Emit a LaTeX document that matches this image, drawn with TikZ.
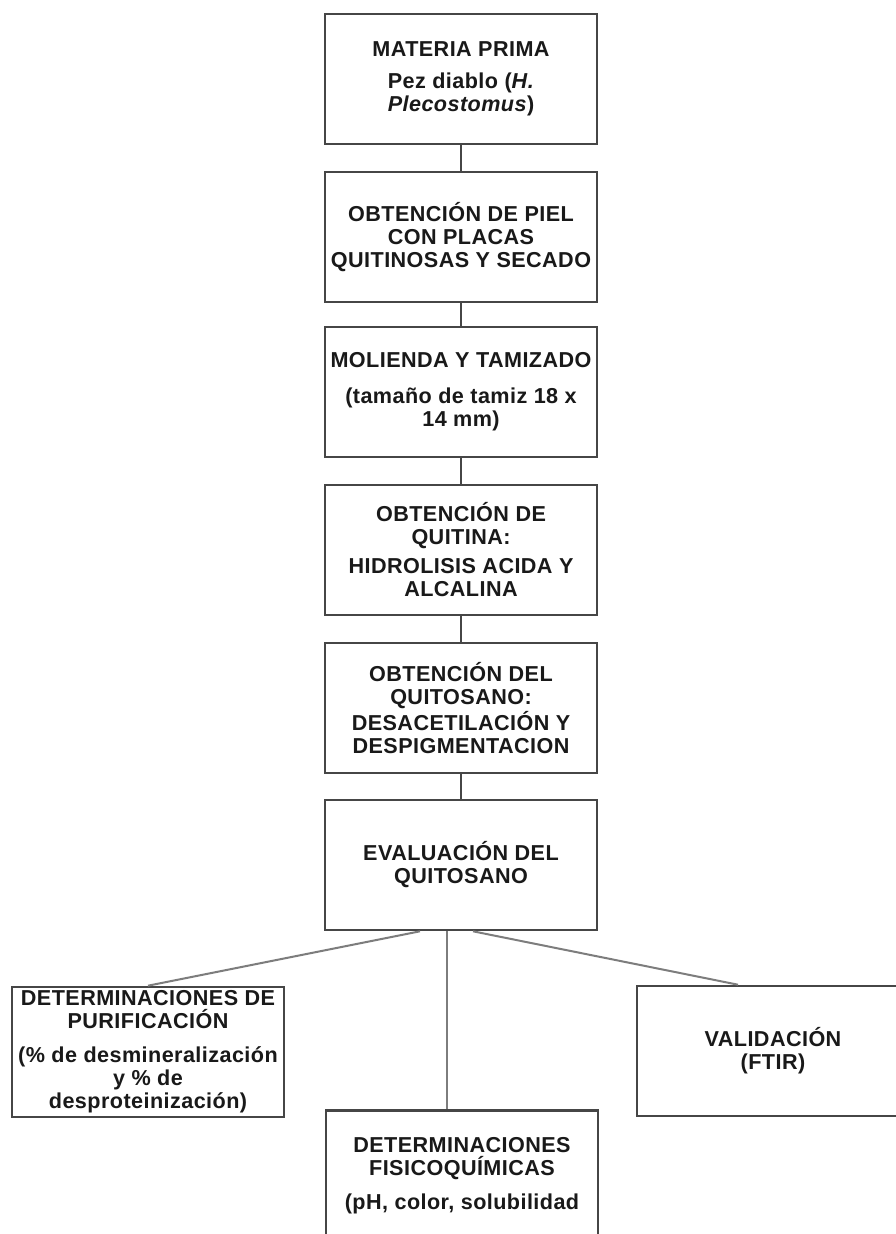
\documentclass[tikz,border=0pt]{standalone}
\usepackage{fontspec}
\newfontfamily\diagfont{Liberation Sans}[LetterSpace=2]
\usetikzlibrary{positioning}
\definecolor{BoxLine}{RGB}{70,70,70}
\definecolor{LinkColor}{RGB}{125,125,125}
\tikzstyle{stage} = [rectangle, draw=BoxLine, line width=1.3pt, fill=white, minimum width=136pt, minimum height=65pt, inner sep=0pt, align=center, text=black!90, font=\diagfont\bfseries\fontsize{10.8}{11.5}\selectfont]
\tikzstyle{link} = [line width=1pt, BoxLine]
\tikzstyle{branch} = [line width=1pt, LinkColor]

\begin{document}
\begin{tikzpicture}[x=0.5pt, y=-0.5pt]
    \useasboundingbox (0,0) rectangle (895,1234);

    % Main process
    \node[stage] (raw) at (461,79) {MATERIA PRIMA\\[4.5pt]Pez diablo (\textit{H.}\\\textit{Plecostomus})};
    \node[stage] (skin) at (461,237) {OBTENCIÓN DE PIEL\\CON PLACAS\\QUITINOSAS Y SECADO};
    \node[stage] (mill) at (461,392) {MOLIENDA Y TAMIZADO\\[6.5pt](tamaño de tamiz 18 x\\14 mm)};
    \node[stage] (chitin) at (461,550) {OBTENCIÓN DE\\QUITINA:\\[3pt]HIDROLISIS ACIDA Y\\ALCALINA};
    \node[stage] (chitosan) at (461,708) {OBTENCIÓN DEL\\QUITOSANO:\\DESACETILACIÓN Y\\DESPIGMENTACION};
    \node[stage] (eval) at (461,865) {EVALUACIÓN DEL\\QUITOSANO};

    % Evaluations
    \node[stage] (purif) at (148,1052) {DETERMINACIONES DE\\PURIFICACIÓN\\[5.5pt](\% de desmineralización\\y \% de\\desproteinización)};
    \node[stage, anchor=north] (physchem) at (462,1109) {DETERMINACIONES\\FISICOQUÍMICAS\\[5.5pt](pH, color, solubilidad};
    \node[stage] (valid) at (773,1051) {VALIDACIÓN\\(FTIR)};

    % Links
    \draw[link] (raw) -- (skin);
    \draw[link] (skin) -- (mill);
    \draw[link] (mill) -- (chitin);
    \draw[link] (chitin) -- (chitosan);
    \draw[link] (chitosan) -- (eval);

    \draw[branch] ([xshift=-20.5pt]eval.south) -- (purif.north);
    \draw[branch, line width=0.6pt] ([xshift=-7pt]eval.south) -- ([xshift=-7.5pt]physchem.north);
    \draw[branch] ([xshift=6pt]eval.south) -- ([xshift=-17.5pt]valid.north);
\end{tikzpicture}
\end{document}
